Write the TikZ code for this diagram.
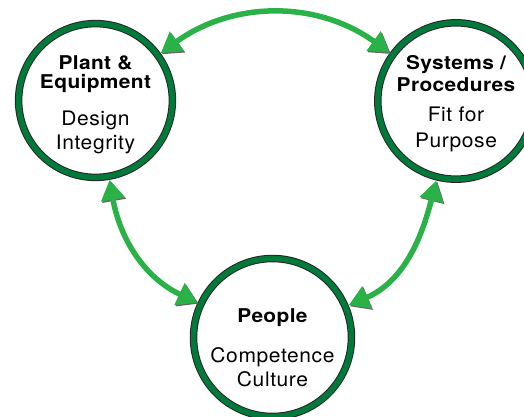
\documentclass[tikz,border=0pt]{standalone}
\usepackage{fontspec}
\setmainfont[FakeStretch=1.05,LetterSpace=3]{TeX Gyre Heros}
\newfontfamily\headfont[FakeStretch=1.1,LetterSpace=2]{TeX Gyre Heros}
\usetikzlibrary{arrows.meta}

\definecolor{ringgreen}{RGB}{0,122,58}
\definecolor{arrowgreen}{RGB}{42,178,72}
\newcommand{\nodetitle}[1]{{\headfont\fontsize{19}{19}\selectfont\bfseries #1}}

\begin{document}
\begin{tikzpicture}[>={Triangle[length=20pt,width=23pt]},
    main node/.style={circle,draw=black!85,line width=1pt,double=ringgreen,
      double distance=5.5pt,fill=white,minimum size=151pt,inner sep=0pt,
      outer sep=3.75pt,align=center,font=\fontsize{20}{24}\selectfont},
    link/.style={<->,draw=arrowgreen,line width=5.5pt,
      preaction={draw=black!60,transform canvas={shift={(1.2pt,-1.2pt)}}}}]
    \useasboundingbox (0,0) rectangle (524pt,416pt);
    \node[main node] (plant) at (95.5pt,315.5pt)
      {\rule{0pt}{22pt}\nodetitle{Plant \&}\\[-5pt]\nodetitle{Equipment}\\[13pt]Design\\Integrity};
    \node[main node] (systems) at (456pt,315pt)
      {\rule{0pt}{20pt}\nodetitle{Systems /}\\[-2pt]\nodetitle{Procedures}\\[6pt]Fit for\\[2pt]Purpose};
    \node[main node] (people) at (272.5pt,78.5pt)
      {\rule{0pt}{34pt}\nodetitle{People}\\[16pt]Competence\\Culture};
    % links between the circles
    \draw[link] (plant) to [out=36,in=144] (systems);
    \draw[link] (plant) to [out=-80,in=155] (people);
    \draw[link] (systems) to [out=-104,in=23] (people);
\end{tikzpicture}
\end{document}
